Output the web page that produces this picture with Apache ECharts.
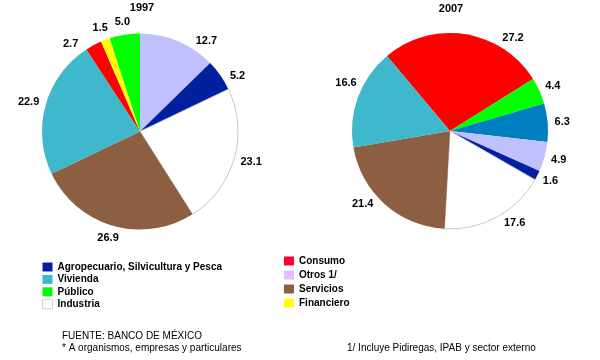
<!DOCTYPE html>
<html>
<head>
<meta charset="utf-8">
<script src="https://cdn.jsdelivr.net/npm/echarts@6/dist/echarts.min.js"></script>
<style>html,body{margin:0;padding:0;background:#fff}#c{width:600px;height:360px}</style>
</head>
<body>
<div id="c"></div>
<script>
// Data (percent shares)
const titles = ['1997', '2007'];
const names1997 = ['Otros 1/', 'Agropecuario, Silvicultura y Pesca', 'Industria', 'Servicios', 'Vivienda', 'Consumo', 'Financiero', 'Público'];
const values1997 = [12.7, 5.2, 23.1, 26.9, 22.9, 2.7, 1.5, 5.0];
const names2007 = ['Consumo', 'Público', 'Financiero', 'Otros 1/', 'Agropecuario, Silvicultura y Pesca', 'Industria', 'Servicios', 'Vivienda'];
const values2007 = [27.2, 4.4, 6.3, 4.9, 1.6, 17.6, 21.4, 16.6];
const legendLeft = ['Agropecuario, Silvicultura y Pesca', 'Vivienda', 'Público', 'Industria'];
const legendRight = ['Consumo', 'Otros 1/', 'Servicios', 'Financiero'];

const colors = {
  'Otros 1/': '#C0C0FF',
  'Agropecuario, Silvicultura y Pesca': '#0020A0',
  'Industria': '#FFFFFF',
  'Servicios': '#8C5E42',
  'Vivienda': '#40B8CC',
  'Consumo': '#FF0000',
  'Financiero': '#FFFF00',
  'Público': '#00FF00'
};
const colors2007 = Object.assign({}, colors, { 'Financiero': '#0080C0' });
const legendColors = Object.assign({}, colors, { 'Consumo': '#FF0033', 'Otros 1/': '#E0C0FF' });

const FONT = 'Liberation Sans, Arial, sans-serif';

// Layout settings
const pies = [
  { center: [140, 131.5], radius: 98, startCW: 0, values: values1997 },
  { center: [450, 131], radius: 98, startCW: -40, values: values2007 }
];
const LABEL_GAP = 7;
// manual label angle tweaks (degrees clockwise from top) as in the original
const labelAngleTweak = { '0-0': 35, '0-1': 60, '0-5': 322, '1-0': 33, '1-5': 146, '1-6': 229, '1-7': 296 };

function labelAngle(si, di) {
  const key = si + '-' + di;
  if (labelAngleTweak[key] !== undefined) return labelAngleTweak[key];
  const p = pies[si];
  const tot = p.values.reduce((a, b) => a + b, 0);
  let cum = 0;
  for (let i = 0; i < di; i++) cum += p.values[i];
  return p.startCW + (cum + p.values[di] / 2) / tot * 360;
}

function mkData(names, vals, cmap) {
  return names.map((n, i) => {
    const d = { name: n, value: vals[i], itemStyle: { color: cmap[n] } };
    if (n === 'Industria') { d.itemStyle.borderColor = '#c8c8c8'; d.itemStyle.borderWidth = 1; }
    return d;
  });
}
function legendData(list) {
  return list.map(n => {
    const s = { color: legendColors[n] };
    if (n === 'Industria') { s.borderColor = '#d0d0d0'; s.borderWidth = 1; }
    return { name: n, icon: 'rect', itemStyle: s };
  });
}

function mkPie(si, name, data) {
  const p = pies[si];
  return {
    type: 'pie',
    name: name,
    center: p.center,
    radius: p.radius,
    startAngle: 90 - p.startCW,
    clockwise: true,
    avoidLabelOverlap: false,
    label: {
      show: true, position: 'outside', formatter: q => q.value.toFixed(1),
      color: '#000', fontFamily: FONT, fontWeight: 'bold', fontSize: 11
    },
    labelLine: { show: false, length: 4, length2: 2 },
    labelLayout: function (params) {
      const a = labelAngle(si, params.dataIndex) * Math.PI / 180;
      const dx = Math.sin(a), dy = -Math.cos(a);
      const w = params.labelRect.width, h = params.labelRect.height;
      const rr = p.radius + LABEL_GAP;
      return {
        x: p.center[0] + dx * rr + dx * w / 2,
        y: p.center[1] + dy * rr + dy * h / 2,
        align: 'center', verticalAlign: 'middle', hideOverlap: false
      };
    },
    emphasis: { scale: false },
    itemStyle: { borderWidth: 0 },
    data: data
  };
}

const chart = echarts.init(document.getElementById('c'), null, { renderer: 'canvas' });
chart.setOption({
  animation: false,
  backgroundColor: '#fff',
  title: [
    { text: titles[0], left: 142, top: 2, padding: 0, textAlign: 'center', textStyle: { fontFamily: FONT, fontWeight: 'bold', fontSize: 11, color: '#000' } },
    { text: titles[1], left: 451, top: 3, padding: 0, textAlign: 'center', textStyle: { fontFamily: FONT, fontWeight: 'bold', fontSize: 11, color: '#000' } }
  ],
  legend: [
    { orient: 'vertical', left: 42, top: 262, padding: 0, itemWidth: 10, itemHeight: 9, itemGap: 2.4, selectedMode: false,
      textStyle: { fontFamily: FONT, fontWeight: 'bold', fontSize: 10, color: '#000' }, data: legendData(legendLeft) },
    { orient: 'vertical', left: 284, top: 256, padding: 0, itemWidth: 10, itemHeight: 9, itemGap: 4, selectedMode: false,
      textStyle: { fontFamily: FONT, fontWeight: 'bold', fontSize: 10, color: '#000' }, data: legendData(legendRight) }
  ],
  series: [
    mkPie(0, titles[0], mkData(names1997, values1997, colors)),
    mkPie(1, titles[1], mkData(names2007, values2007, colors2007))
  ],
  graphic: [
    { type: 'text', left: 62, top: 331, style: { text: 'FUENTE: BANCO DE MÉXICO', font: '10px ' + FONT, fill: '#000' } },
    { type: 'text', left: 62, top: 343, style: { text: '* A organismos, empresas y particulares', font: '10px ' + FONT, fill: '#000' } },
    { type: 'text', left: 347, top: 343, style: { text: '1/ Incluye Pidiregas, IPAB y sector externo', font: '10px ' + FONT, fill: '#000' } }
  ]
});
</script>
</body>
</html>
